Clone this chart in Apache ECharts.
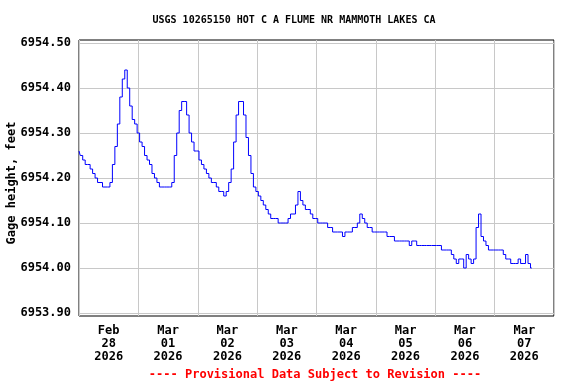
<!DOCTYPE html>
<html>
<head>
<meta charset="utf-8">
<script src="https://cdn.jsdelivr.net/npm/echarts@6/dist/echarts.min.js"></script>
<style>
html,body{margin:0;padding:0;background:#fff;}
#chart{width:576px;height:384px;}
</style>
</head>
<body>
<div id="chart"></div>
<script>
// Hourly gage height readings (feet), hour 0 = Feb 28 2026 00:00
const feb28 = [6954.26,6954.25,6954.24,6954.23,6954.23,6954.22,6954.21,6954.20,6954.19,6954.19,6954.18,6954.18,6954.18,6954.19,6954.23,6954.27,6954.32,6954.38,6954.42,6954.44,6954.40,6954.36,6954.33,6954.32];
const mar01 = [6954.30,6954.28,6954.27,6954.25,6954.24,6954.23,6954.21,6954.20,6954.19,6954.18,6954.18,6954.18,6954.18,6954.18,6954.19,6954.25,6954.30,6954.35,6954.37,6954.37,6954.34,6954.30,6954.28,6954.26];
const mar02 = [6954.26,6954.24,6954.23,6954.22,6954.21,6954.20,6954.19,6954.19,6954.18,6954.17,6954.17,6954.16,6954.17,6954.19,6954.22,6954.28,6954.34,6954.37,6954.37,6954.34,6954.29,6954.25,6954.21,6954.18];
const mar03 = [6954.17,6954.16,6954.15,6954.14,6954.13,6954.12,6954.11,6954.11,6954.11,6954.10,6954.10,6954.10,6954.10,6954.11,6954.12,6954.12,6954.14,6954.17,6954.15,6954.14,6954.13,6954.13,6954.12,6954.11];
const mar04 = [6954.11,6954.10,6954.10,6954.10,6954.10,6954.09,6954.09,6954.08,6954.08,6954.08,6954.08,6954.07,6954.08,6954.08,6954.08,6954.09,6954.09,6954.10,6954.12,6954.11,6954.10,6954.09,6954.09,6954.08];
const mar05 = [6954.08,6954.08,6954.08,6954.08,6954.08,6954.07,6954.07,6954.07,6954.06,6954.06,6954.06,6954.06,6954.06,6954.06,6954.05,6954.06,6954.06,6954.05,6954.05,6954.05,6954.05,6954.05,6954.05,6954.05];
const mar06 = [6954.05,6954.05,6954.05,6954.04,6954.04,6954.04,6954.04,6954.03,6954.02,6954.01,6954.02,6954.02,6954.00,6954.03,6954.02,6954.01,6954.02,6954.09,6954.12,6954.07,6954.06,6954.05,6954.04,6954.04];
const mar07 = [6954.04,6954.04,6954.04,6954.04,6954.03,6954.02,6954.02,6954.01,6954.01,6954.01,6954.02,6954.01,6954.01,6954.03,6954.01,6954.00];

const dayLabels = ['Feb\n28\n2026','Mar\n01\n2026','Mar\n02\n2026','Mar\n03\n2026','Mar\n04\n2026','Mar\n05\n2026','Mar\n06\n2026','Mar\n07\n2026'];
const titleText = 'USGS 10265150 HOT C A FLUME NR MAMMOTH LAKES CA';
const yAxisTitle = 'Gage height, feet';
const footerText = '---- Provisional Data Subject to Revision ----';
const yMin = 6953.90, yMax = 6954.50, yStep = 0.10;
const totalHours = 192;

const values = [].concat(feb28, mar01, mar02, mar03, mar04, mar05, mar06, mar07);
const seriesData = values.map((v, i) => [i, v]);

const FONT = '"DejaVu Sans Mono", monospace';
const chart = echarts.init(document.getElementById('chart'), null, {renderer: 'canvas'});
const pad = 3 / 450; // frame sits 3px outside outer gridlines (450px per foot)

chart.setOption({
  animation: false,
  backgroundColor: '#fff',
  grid: [
    {left: 79, right: 22, top: 40, bottom: 68, show: true, borderColor: '#000', borderWidth: 1, backgroundColor: 'transparent', containLabel: false, outerBoundsMode: 'none'},
    {left: 79, right: 22, top: 43, bottom: 71, containLabel: false, outerBoundsMode: 'none'}
  ],
  xAxis: [
    {gridIndex: 0, type: 'value', min: 0, max: totalHours, show: false},
    {gridIndex: 0, type: 'category', data: dayLabels, boundaryGap: true, position: 'bottom',
      axisLine: {show: false}, axisTick: {show: false},
      splitLine: {show: true, interval: 0, lineStyle: {color: '#c8c8c8', width: 1}},
      axisLabel: {interval: 0, color: '#000', fontFamily: FONT, fontWeight: 'bold', fontSize: 12, lineHeight: 13, margin: 8}},
    {gridIndex: 1, type: 'value', min: 0, max: totalHours, show: false}
  ],
  yAxis: [
    {gridIndex: 0, type: 'value', min: yMin - pad, max: yMax + pad, show: false},
    {gridIndex: 1, type: 'value', min: yMin, max: yMax, interval: yStep,
      axisLine: {show: false}, axisTick: {show: false},
      splitLine: {show: true, lineStyle: {color: '#c8c8c8', width: 1}},
      axisLabel: {formatter: v => v.toFixed(2), color: '#000', fontFamily: FONT, fontWeight: 'bold', fontSize: 12, margin: 8}}
  ],
  series: [{
    type: 'line', xAxisIndex: 0, yAxisIndex: 0, data: seriesData, step: 'middle',
    showSymbol: false, symbol: 'none', lineStyle: {color: '#0000ff', width: 1}, z: 5
  }],
  graphic: [
    {type: 'text', x: 294, y: 20, style: {text: titleText, font: 'bold 10px ' + FONT, fill: '#000', align: 'center', verticalAlign: 'middle', textAlign: 'center', textVerticalAlign: 'middle'}},
    {type: 'text', x: 12, y: 183, rotation: Math.PI / 2, style: {text: yAxisTitle, font: 'bold 12px ' + FONT, fill: '#000', align: 'center', verticalAlign: 'middle', textAlign: 'center', textVerticalAlign: 'middle'}},
    {type: 'text', x: 315, y: 375, style: {text: footerText, font: 'bold 12px ' + FONT, fill: '#ff0000', align: 'center', verticalAlign: 'middle', textAlign: 'center', textVerticalAlign: 'middle'}}
  ]
});
</script>
</body>
</html>
